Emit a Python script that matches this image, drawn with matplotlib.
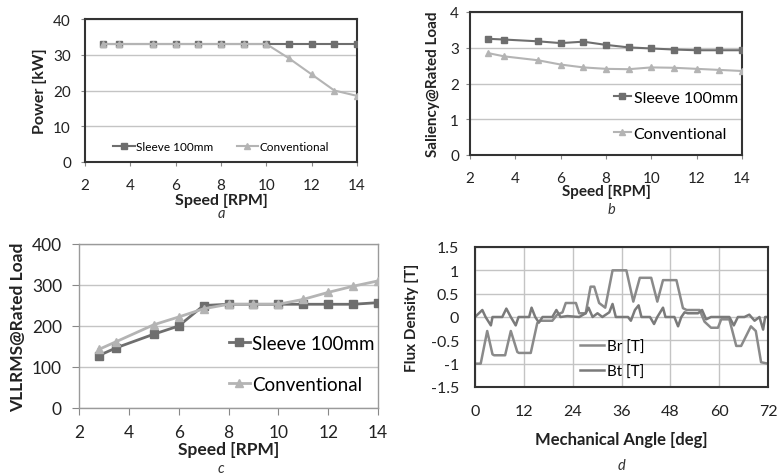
import matplotlib
matplotlib.use("Agg")
import matplotlib.pyplot as plt
import numpy as np

plt.rcParams['font.family'] = ['Lato', 'DejaVu Sans']

# ---- data ----
speed = [2.8, 3.5, 5, 6, 7, 8, 9, 10, 11, 12, 13, 14]

power_sleeve = [33, 33, 33, 33, 33, 33, 33, 33, 33, 33, 33, 33]
power_conv = [33, 33, 33, 33, 33, 33, 33, 33, 29, 24.5, 20, 18.5]

sal_sleeve = [3.25, 3.23, 3.18, 3.13, 3.17, 3.08, 3.01, 2.98, 2.95, 2.93, 2.93, 2.93]
sal_conv = [2.85, 2.76, 2.65, 2.53, 2.45, 2.41, 2.40, 2.45, 2.44, 2.41, 2.38, 2.35]

vll_sleeve = [128, 147, 180, 200, 250, 253, 253, 253, 253, 253, 253, 257]
vll_conv = [143, 162, 203, 222, 242, 253, 253, 253, 265, 282, 297, 310]

br_angle = [0, 1.4, 3, 4.3, 4.7, 7.4, 8.8, 10.4, 10.8, 13.7, 15.3, 16, 19, 20.2, 21.5,
            22.3, 24.8, 25.6, 27.2, 28.4, 29.3, 30.5, 32, 33.8, 37.2, 38.9, 40.5, 43.3,
            44.8, 46.2, 49.5, 51.1, 52, 55.2, 56.4, 58, 59.7, 60.5, 62.5, 64.2, 65.4,
            67.8, 69, 70.3, 72]
br_val = [-1.0, -1.0, -0.3, -0.8, -0.82, -0.82, -0.3, -0.75, -0.77, -0.77, -0.13, -0.08,
          -0.08, 0.05, 0.1, 0.3, 0.3, 0.08, 0.08, 0.65, 0.65, 0.3, 0.2, 1.0, 1.0, 0.33,
          0.84, 0.84, 0.33, 0.79, 0.79, 0.19, 0.15, 0.15, -0.1, -0.23, -0.23, -0.05, -0.05,
          -0.62, -0.62, -0.2, -0.3, -0.97, -1.0]

bt_angle = [0, 1.8, 2.6, 3.9, 4.3, 6.7, 7.7, 8.8, 10, 10.7, 13.3, 13.9, 14.8, 15.7, 16.6,
            19, 20, 21, 22.7, 25.6, 27.2, 27.9, 28.9, 30.1, 31.3, 33, 33.8, 34.6, 37.6,
            38.3, 39.3, 40.2, 40.9, 43, 44, 44.8, 46.2, 46.8, 49, 49.9, 50.7, 51.5, 52.3,
            54.8, 55.8, 56.8, 58, 62.5, 63.6, 64.6, 66.2, 67.4, 68.7, 69.9, 70.8, 71.3, 72]
bt_val = [0, 0.15, 0, -0.18, 0, 0, 0.18, 0, -0.18, 0, 0, 0.2, 0, -0.12, 0,
          0, 0.15, 0, 0.02, 0, 0.08, 0.2, 0, 0.08, 0, 0.1, 0.28, 0, 0,
          -0.08, 0.15, 0.25, 0, 0, -0.15, 0, 0.2, 0, 0, -0.2, 0, 0.1, 0.08,
          0.08, 0.15, -0.05, 0, 0, -0.18, 0, 0, 0.05, -0.08, 0, -0.27, 0, 0]

speed_ticks = [2, 4, 6, 8, 10, 12, 14]
angle_ticks = [0, 12, 24, 36, 48, 60, 72]

DARK = '#6e6e6e'
LIGHT = '#b4b4b4'
GRID = '#c4c4c4'
FRAME = '#333333'

fig = plt.figure(figsize=(7.77, 4.77), dpi=100)
W, H = 777, 477


def add_ax(x0, y0, x1, y1):
    return fig.add_axes([x0 / W, 1 - y1 / H, (x1 - x0) / W, (y1 - y0) / H])


def px(v):
    return v * 72 / 100  # pixels -> points


def style(ax, fs, xpad, ypad, frame=FRAME, lw=1.5, tl=4):
    for s in ax.spines.values():
        s.set_color(frame)
        s.set_linewidth(lw)
    ax.tick_params(axis='both', labelsize=fs, labelcolor='#222222', length=px(tl), width=0.8,
                   direction='out', color='#888888')
    ax.tick_params(axis='x', pad=px(xpad))
    ax.tick_params(axis='y', pad=px(ypad))


def labels(ax, xl, yl, fx, fy, xcoord, ycoord):
    ax.set_xlabel(xl, fontsize=fx, fontweight='bold', color='#222222')
    ax.set_ylabel(yl, fontsize=fy, fontweight='bold', color='#222222')
    ax.xaxis.label.set_va('center')
    ax.yaxis.label.set_va('center')
    ax.xaxis.set_label_coords(0.5, xcoord)
    ax.yaxis.set_label_coords(ycoord, 0.5)


# ---- a ----
axa = add_ax(85, 20, 357, 163)
axa.plot(speed, power_sleeve, color=DARK, marker='s', ms=5, lw=1.5, label='Sleeve 100mm', zorder=3)
axa.plot(speed, power_conv, color=LIGHT, marker='^', ms=5, lw=1.5, label='Conventional', zorder=4)
axa.set_xlim(2, 14)
axa.set_ylim(0, 40)
axa.set_xticks(speed_ticks)
axa.set_yticks([0, 10, 20, 30, 40])
axa.yaxis.grid(True, color=GRID, lw=1)
axa.set_axisbelow(True)
style(axa, 11, xpad=12, ypad=10)
labels(axa, 'Speed [RPM]', 'Power [kW]', 11.5, 11.5, -0.262, -0.165)
axa.legend(loc='center', ncol=2, frameon=False, fontsize=8.5, handlelength=1.8,
           columnspacing=2.0, handletextpad=0.1, bbox_to_anchor=(0.5, 0.11))
fig.text(221 / W, 1 - 214 / H, 'a', fontsize=10.5, style='italic', ha='center', va='center',
         color='#333333')

# ---- b ----
axb = add_ax(470, 13, 742, 156)
axb.plot(speed, sal_sleeve, color=DARK, marker='s', ms=5, lw=1.5, label='Sleeve 100mm', zorder=3)
axb.plot(speed, sal_conv, color=LIGHT, marker='^', ms=5, lw=1.5, label='Conventional', zorder=4)
axb.set_xlim(2, 14)
axb.set_ylim(0, 4)
axb.set_xticks(speed_ticks)
axb.set_yticks([0, 1, 2, 3, 4])
axb.yaxis.grid(True, color=GRID, lw=1)
axb.set_axisbelow(True)
style(axb, 11, xpad=12, ypad=7)
labels(axb, 'Speed [RPM]', 'Saliency@Rated Load', 11, 11, -0.252, -0.136)
axb.legend(loc='center left', frameon=False, fontsize=11.5, handlelength=1.1,
           handletextpad=0.15, labelspacing=1.35, bbox_to_anchor=(0.475, 0.275))
fig.text(611 / W, 1 - 210 / H, 'b', fontsize=10.5, style='italic', ha='center', va='center',
         color='#333333')

# ---- c ----
axc = add_ax(79, 245, 378, 409)
axc.plot(speed, vll_sleeve, color=DARK, marker='s', ms=5.5, lw=2.0, label='Sleeve 100mm', zorder=3)
axc.plot(speed, vll_conv, color=LIGHT, marker='^', ms=5.5, lw=2.0, label='Conventional', zorder=4)
axc.set_xlim(2, 14)
axc.set_ylim(0, 400)
axc.set_xticks(speed_ticks)
axc.set_yticks([0, 100, 200, 300, 400])
axc.yaxis.grid(True, color=GRID, lw=1)
axc.set_axisbelow(True)
style(axc, 12.5, xpad=9, ypad=10, frame='#9a9a9a', lw=1.0, tl=7)
labels(axc, 'Speed [RPM]', 'VLLRMS@Rated Load', 12.5, 12.5, -0.25, -0.205)
axc.legend(loc='center left', frameon=False, fontsize=13.5, handlelength=1.1,
           handletextpad=0.15, labelspacing=1.3, bbox_to_anchor=(0.445, 0.27))
fig.text(221 / W, 1 - 469 / H, 'c', fontsize=10.5, style='italic', ha='center', va='center',
         color='#333333')

# ---- d ----
axd = add_ax(475, 248, 768, 388)
axd.plot(br_angle, br_val, color='#8a8a8a', lw=1.8, label='Br [T]')
axd.plot(bt_angle, bt_val, color='#7a7a7a', lw=1.8, label='Bt [T]')
axd.set_xlim(0, 72)
axd.set_ylim(-1.5, 1.5)
axd.set_xticks(angle_ticks)
axd.set_yticks([-1.5, -1, -0.5, 0, 0.5, 1, 1.5])
axd.set_yticklabels(['-1.5', '-1', '-0.5', '0', '0.5', '1', '1.5'])
axd.grid(True, color=GRID, lw=1)
axd.set_axisbelow(True)
style(axd, 11.5, xpad=17, ypad=16, tl=0)
labels(axd, 'Mechanical Angle [deg]', 'Flux Density [T]', 12, 11, -0.371, -0.215)
axd.legend(loc='center left', frameon=False, fontsize=11, handlelength=1.6,
           handletextpad=0.2, labelspacing=0.7, bbox_to_anchor=(0.31, 0.2))
fig.text(621 / W, 1 - 466 / H, 'd', fontsize=10.5, style='italic', ha='center', va='center',
         color='#333333')

fig.savefig('out.png', dpi=100)
